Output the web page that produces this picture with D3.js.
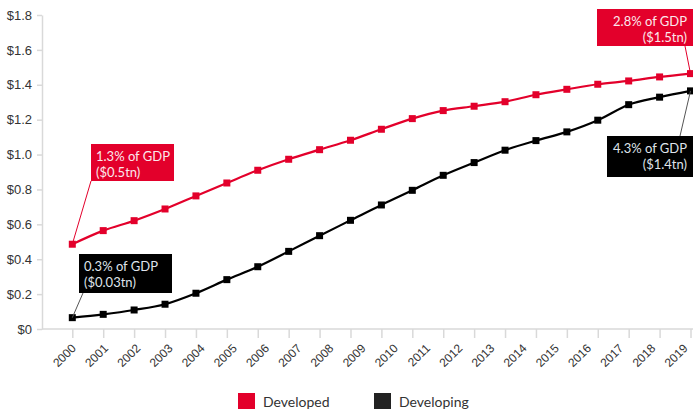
<!DOCTYPE html>
<html>
<head>
<meta charset="utf-8">
<script src="https://cdn.jsdelivr.net/npm/d3@7"></script>
<style>
  html, body { margin: 0; padding: 0; background: #fff; }
  svg { display: block; font-family: Lato, "Open Sans", sans-serif; }
</style>
</head>
<body>
<svg id="chart" width="693" height="409"></svg>
<script>
// ---- data ----
const yearLabels = ["2000","2001","2002","2003","2004","2005","2006","2007","2008","2009",
                    "2010","2011","2012","2013","2014","2015","2016","2017","2018","2019"];
const developed  = [0.486,0.564,0.621,0.688,0.763,0.837,0.910,0.973,1.028,1.082,
                    1.145,1.206,1.252,1.277,1.303,1.343,1.374,1.403,1.422,1.445,1.464];
const developing = [0.065,0.084,0.109,0.142,0.205,0.283,0.357,0.445,0.535,0.623,
                    0.711,0.795,0.881,0.954,1.025,1.080,1.130,1.197,1.286,1.329,1.365];
const yTicks = [0,0.2,0.4,0.6,0.8,1.0,1.2,1.4,1.6,1.8];
const seriesNames = ["Developed","Developing"];
const annotStartDeveloped = ["1.3% of GDP","($0.5tn)"];
const annotEndDeveloped   = ["2.8% of GDP","($1.5tn)"];
const annotStartDeveloping= ["0.3% of GDP","($0.03tn)"];
const annotEndDeveloping  = ["4.3% of GDP","($1.4tn)"];

// ---- styles ----
const RED = "#E3002B", BLACK = "#000000", AXIS = "#d9d9d9", TEXT = "#333333";

const svg = d3.select("#chart");
const plot = {left: 42, right: 693, top: 15, bottom: 329};

const x = d3.scaleLinear().domain([0, developed.length - 1]).range([72.3, 690.5]);
const xLab = d3.scalePoint().domain(yearLabels).range([72.3, 684]);
const y = d3.scaleLinear().domain([0, 1.8]).range([plot.bottom, plot.top]);

// y axis
const gy = svg.append("g").attr("transform", `translate(${plot.left},0)`)
  .call(d3.axisLeft(y).tickValues(yTicks).tickSize(5).tickSizeOuter(0).tickPadding(5)
        .tickFormat(d => d === 0 ? "$0" : "$" + d.toFixed(1)));
gy.select(".domain").attr("stroke", AXIS).attr("stroke-width", 1.5);
gy.selectAll(".tick line").attr("stroke", AXIS).attr("stroke-width", 1.5);
gy.selectAll(".tick text").attr("fill", TEXT).style("font-size", "13px");

// x axis ticks
const gx = svg.append("g").attr("transform", `translate(0,${plot.bottom})`)
  .call(d3.axisBottom(x).tickValues(d3.range(developed.length)).tickSize(9).tickFormat(""));
gx.select(".domain").remove();
gx.selectAll(".tick line").attr("stroke", AXIS).attr("stroke-width", 1.5);
svg.append("line").attr("x1", plot.left).attr("x2", plot.right)
  .attr("y1", plot.bottom).attr("y2", plot.bottom)
  .attr("stroke", AXIS).attr("stroke-width", 1.5);

// x labels
const gl = svg.append("g").attr("transform", `translate(0,${plot.bottom})`)
  .call(d3.axisBottom(xLab).tickSize(0));
gl.select(".domain").remove();
gl.selectAll(".tick text")
  .attr("fill", TEXT).style("font-size", "12px")
  .attr("text-anchor", "end").attr("x", 0).attr("y", 0).attr("dy", "0.35em")
  .attr("transform", "translate(1,17) rotate(-45)");

// lines
const line = d3.line().x((d, i) => x(i)).y(d => y(d)).curve(d3.curveMonotoneX);
function drawSeries(data, color) {
  svg.append("path").datum(data).attr("d", line)
    .attr("fill", "none").attr("stroke", color).attr("stroke-width", 2.2);
  svg.append("g").selectAll("rect").data(data).join("rect")
    .attr("x", (d, i) => x(i) - 3.5).attr("y", d => y(d) - 3.5)
    .attr("width", 7).attr("height", 7).attr("fill", color);
}

// annotations
function annotate(lines, box, anchorIdx, data, fill, textFill, lineColor, corner, align) {
  const px = x(anchorIdx), py = y(data[anchorIdx]);
  svg.append("line").attr("x1", corner[0]).attr("y1", corner[1]).attr("x2", px).attr("y2", py)
    .attr("stroke", lineColor).attr("stroke-width", 1);
  svg.append("rect").attr("x", box[0]).attr("y", box[1]).attr("width", box[2]).attr("height", box[3])
    .attr("fill", fill);
  const t = svg.append("text").attr("fill", textFill).style("font-size", "13px")
    .attr("text-anchor", align === "right" ? "end" : "start");
  lines.forEach((s, k) => {
    t.append("tspan").attr("x", align === "right" ? box[0] + box[2] - 6 : box[0] + 5)
      .attr("y", box[1] + 17 + k * 15.5).text(s);
  });
}

drawSeries(developed, RED);
drawSeries(developing, BLACK);

annotate(annotStartDeveloped, [91, 144, 83, 37], 0, developed, RED, "#fbe8ec", RED, [91, 181], "left");
annotate(annotStartDeveloping, [79, 254, 93, 39], 0, developing, BLACK, "#dfe3ea", "#555", [83, 293], "left");
annotate(annotEndDeveloped, [597, 9, 96, 37], developed.length - 1, developed, RED, "#fbe8ec", RED, [685, 46], "right");
annotate(annotEndDeveloping, [607, 136, 86, 41], developing.length - 1, developing, BLACK, "#dfe3ea", "#555", [680, 136], "right");

// legend
const legend = svg.append("g");
const lx = [238, 374];
seriesNames.forEach((name, i) => {
  legend.append("rect").attr("x", lx[i]).attr("y", 393).attr("width", 17).attr("height", 17)
    .attr("fill", i === 0 ? RED : "#222");
  legend.append("text").attr("x", lx[i] + 25).attr("y", 407).attr("fill", TEXT)
    .style("font-size", "14px").text(name);
});
</script>
</body>
</html>
